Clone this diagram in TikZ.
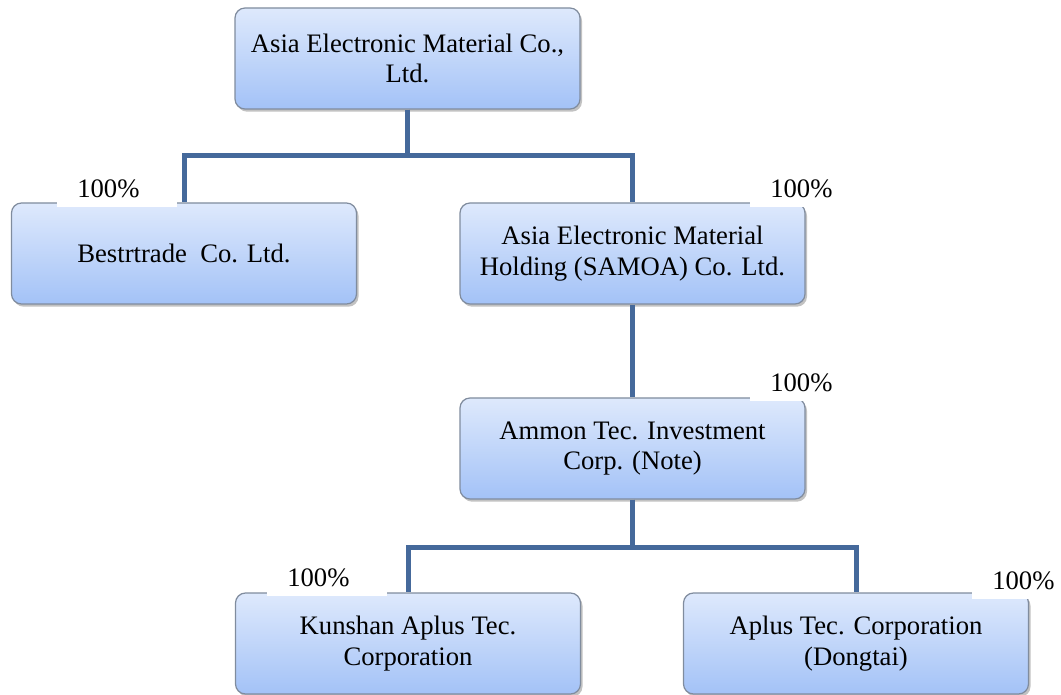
\documentclass[tikz,border=0pt]{standalone}
\usepackage{fontspec}
\setmainfont{Liberation Serif}
\usetikzlibrary{shadows}
\definecolor{BoxTop}{RGB}{222,233,252}
\definecolor{BoxBottom}{RGB}{163,194,247}
\definecolor{BoxEdge}{RGB}{128,140,158}
\definecolor{LinkBlue}{RGB}{69,105,155}

\begin{document}
\begin{tikzpicture}[
    x=0.75pt, y=-0.75pt,
    font=\fontsize{20}{23}\selectfont,
    unit/.style={draw=BoxEdge, line width=0.9pt, rounded corners=7.5pt,
        top color=BoxTop, bottom color=BoxBottom, align=center,
        minimum width=258.75pt, minimum height=75.75pt, inner sep=4pt,
        drop shadow={shadow xshift=1.5pt, shadow yshift=-2pt, opacity=0.4, fill=black!60}},
    link/.style={draw=LinkBlue, line width=3.75pt},
    pct/.style={fill=white, anchor=south west, text width=60pt, inner xsep=15pt,
        inner ysep=0pt, minimum height=27pt},
]
\useasboundingbox (0,0) rectangle (1061,695);

% ---- companies ----
\node[unit] (parent) at (407.5,58.5) {Asia Electronic Material Co.,\\Ltd.};
\node[unit] (bestr) at (184,253.5) {Bestrtrade\ \ Co. Ltd.};
\node[unit] (samoa) at (632.5,253.5) {Asia Electronic Material\\Holding (SAMOA) Co. Ltd.};
\node[unit] (ammon) at (632.5,448.5) {Ammon Tec. Investment\\Corp. (Note)};
\node[unit] (kunshan) at (408,643.5) {Kunshan Aplus Tec.\\Corporation};
\node[unit] (dongtai) at (856,643.5) {Aplus Tec. Corporation\\(Dongtai)};

% ---- ownership lines ----
\draw[link] (parent.south) -- ++(0,46) -| (bestr.north);
\draw[link] (parent.south) -- ++(0,46) -| (samoa.north);
\draw[link] (samoa.south) -- (ammon.north);
\draw[link] (ammon.south) -- ++(0,48) -| (kunshan.north);
\draw[link] (ammon.south) -- ++(0,48) -| (dongtai.north);

% ---- shares ----
\node[pct] (pbestr) at (57,207) {100\%};
\node[pct] (psamoa) at (750,207) {100\%};
\node[pct] (pammon) at (750,401) {100\%};
\node[pct] (pkunshan) at (267,596) {100\%};
\node[pct] (pdongtai) at (972,599) {100\%};

\end{tikzpicture}
\end{document}
